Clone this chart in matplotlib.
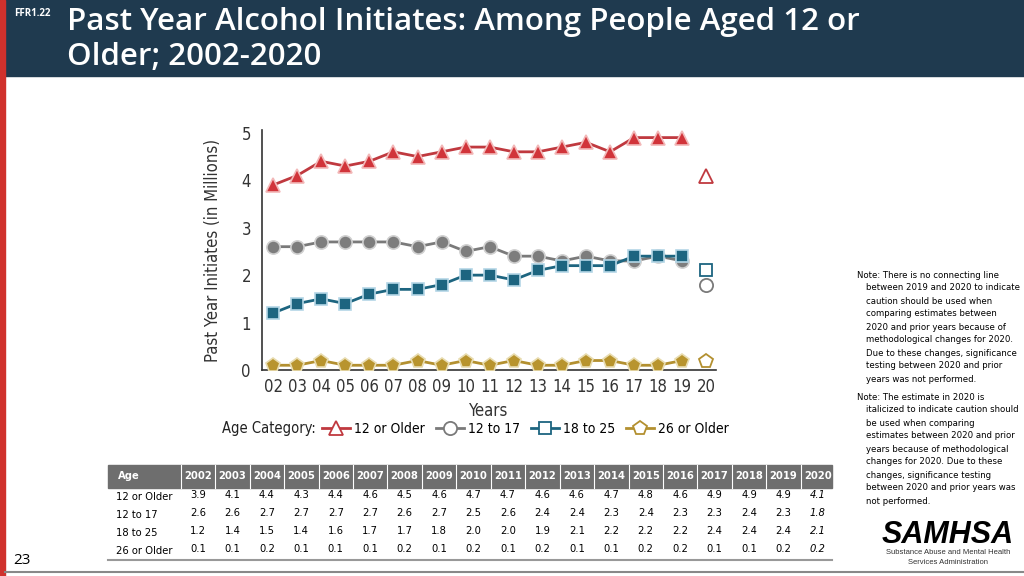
import matplotlib.pyplot as plt
import matplotlib.patches as patches
from matplotlib.lines import Line2D

# Donnees
years = [2002, 2003, 2004, 2005, 2006, 2007, 2008, 2009, 2010, 2011,
         2012, 2013, 2014, 2015, 2016, 2017, 2018, 2019, 2020]
tick_labels = ["%02d" % (y % 100) for y in years]
age_12_older = [3.9, 4.1, 4.4, 4.3, 4.4, 4.6, 4.5, 4.6, 4.7, 4.7, 4.6, 4.6, 4.7, 4.8, 4.6, 4.9, 4.9, 4.9, 4.1]
age_12_17 = [2.6, 2.6, 2.7, 2.7, 2.7, 2.7, 2.6, 2.7, 2.5, 2.6, 2.4, 2.4, 2.3, 2.4, 2.3, 2.3, 2.4, 2.3, 1.8]
age_18_25 = [1.2, 1.4, 1.5, 1.4, 1.6, 1.7, 1.7, 1.8, 2.0, 2.0, 1.9, 2.1, 2.2, 2.2, 2.2, 2.4, 2.4, 2.4, 2.1]
age_26_older = [0.1, 0.1, 0.2, 0.1, 0.1, 0.1, 0.2, 0.1, 0.2, 0.1, 0.2, 0.1, 0.1, 0.2, 0.2, 0.1, 0.1, 0.2, 0.2]
series_names = ["12 or Older", "12 to 17", "18 to 25", "26 or Older"]
series_values = [age_12_older, age_12_17, age_18_25, age_26_older]

# style de chaque serie : ligne, remplissage, bord, marqueur, taille
styles = [
    ("#c0393f", "#d1343a", "#f2b8b8", "^", 10),
    ("#7a7a7a", "#7d7d7d", "#d0d0d0", "o", 9.5),
    ("#1d6580", "#1d6580", "#b4d6e6", "s", 8.5),
    ("#b39030", "#b8942e", "#e8dcb0", "p", 10),
]

W, H = 1024, 576
plt.rcParams['font.family'] = ['DejaVu Sans']
plt.rcParams['font.stretch'] = 'condensed'
fig = plt.figure(figsize=(W / 100, H / 100), dpi=100)

def fx(px):
  return px / W

def fy(py):
  return 1 - py / H

# Bandeau du titre
fig.patches.append(patches.Rectangle((0, fy(76)), 1, 76 / H, transform=fig.transFigure,
                                     color="#1f3a4f", zorder=0))
fig.patches.append(patches.Rectangle((0, 0), fx(5), 1, transform=fig.transFigure,
                                     color="#d0312d", zorder=1))
fig.add_artist(Line2D([fx(5), 1], [fy(572), fy(572)], transform=fig.transFigure,
                      color="#888888", lw=1.5))
fig.text(fx(14), fy(13), "FFR1.22", color="white", fontsize=7, fontweight="bold",
         family=["Open Sans", "DejaVu Sans"], stretch="normal", va="center")
fig.text(fx(67), fy(22), "Past Year Alcohol Initiates: Among People Aged 12 or",
         color="white", fontsize=22.5, fontweight="semibold", family=["Open Sans", "DejaVu Sans"],
         stretch="normal", va="center")
fig.text(fx(67), fy(57), "Older; 2002-2020",
         color="white", fontsize=22.5, fontweight="semibold", family=["Open Sans", "DejaVu Sans"],
         stretch="normal", va="center")
fig.text(fx(13), fy(560), "23", fontsize=11, family=["Open Sans", "DejaVu Sans"],
         stretch="normal", va="center")

# Graphique
ax = fig.add_axes([fx(262), fy(370), fx(716 - 262), (370 - 130) / H])
x = list(range(len(years)))
for vals, (lc, fc, ec, mk, ms) in zip(series_values, styles):
  ax.plot(x[:-1], vals[:-1], color=lc, lw=2, marker=mk, markersize=ms,
          markerfacecolor=fc, markeredgecolor=ec, markeredgewidth=1.2, zorder=3)
  ax.plot(x[-1], vals[-1], linestyle="none", marker=mk, markersize=ms,
          markerfacecolor="white", markeredgecolor=lc, markeredgewidth=1.3, zorder=3)

ax.set_xlim(-0.46, 18.4)
ax.set_ylim(0, 5.06)
ax.set_yticks([0, 1, 2, 3, 4, 5])
ax.set_xticks(x)
ax.set_xticklabels(tick_labels)
ax.tick_params(length=0, labelsize=12, pad=6, colors="#333333")
ax.tick_params(axis="y", pad=8)
for s in ["top", "right"]:
  ax.spines[s].set_visible(False)
for s in ["left", "bottom"]:
  ax.spines[s].set_color("#333333")
  ax.spines[s].set_linewidth(1.2)
ax.set_xlabel("Years", fontsize=12, color="#333333", labelpad=4)
ax.set_ylabel("Past Year Initiates (in Millions)", fontsize=12, color="#333333", labelpad=14)

# Legende
fig.text(fx(222), fy(429), "Age Category:", fontsize=10.5, color="#222222", va="center")
handles = []
for name, (lc, fc, ec, mk, ms) in zip(series_names, styles):
  handles.append(Line2D([], [], color=lc, lw=2, marker=mk, markersize=ms,
                        markerfacecolor="white", markeredgecolor=lc, markeredgewidth=1.3, label=name))
fig.legend(handles=handles, loc="center left", bbox_to_anchor=(fx(322), fy(429)), ncol=4,
           frameon=False, fontsize=10, handlelength=2.0, handletextpad=0.3, columnspacing=0.8,
           borderaxespad=0, borderpad=0)

# Tableau
tx0, tx1 = 108, 832
col0 = 198
dcol = 34.44
fig.patches.append(patches.Rectangle((fx(tx0), fy(488)), fx(tx1 - tx0), 23 / H,
                                     transform=fig.transFigure, color="#6e6e6e"))
for i in range(len(years)):
  xs = col0 + dcol * i - dcol / 2
  fig.add_artist(Line2D([fx(xs), fx(xs)], [fy(465), fy(488)], transform=fig.transFigure,
                        color="white", lw=0.8))
fig.text(fx(118), fy(476), "Age", color="white", fontsize=8, fontweight="bold", va="center")
for i, yr in enumerate(years):
  fig.text(fx(col0 + dcol * i), fy(476), str(yr), color="white", fontsize=8,
           fontweight="bold", ha="center", va="center")
row_y = [497, 515, 533, 551]
for r, (name, vals) in enumerate(zip(series_names, series_values)):
  fig.text(fx(116), fy(row_y[r]), name, fontsize=8, va="center")
  for i, v in enumerate(vals):
    fig.text(fx(col0 + dcol * i), fy(row_y[r] - 2), "%.1f" % v, fontsize=8, ha="center",
             va="center", style="italic" if i == len(vals) - 1 else "normal")
fig.add_artist(Line2D([fx(tx0), fx(tx1)], [fy(560), fy(560)], transform=fig.transFigure,
                      color="#999999", lw=1.5))

# Notes
note1 = ["Note: There is no connecting line", "between 2019 and 2020 to indicate",
         "caution should be used when", "comparing estimates between",
         "2020 and prior years because of", "methodological changes for 2020.",
         "Due to these changes, significance", "testing between 2020 and prior",
         "years was not performed."]
note2 = ["Note: The estimate in 2020 is", "italicized to indicate caution should",
         "be used when comparing", "estimates between 2020 and prior",
         "years because of methodological", "changes for 2020. Due to these",
         "changes, significance testing", "between 2020 and prior years was",
         "not performed."]
yy = 275
for j, line in enumerate(note1):
  fig.text(fx(857 if j == 0 else 866), fy(yy), line, fontsize=6.8, va="center")
  yy += 13
yy += 5
for j, line in enumerate(note2):
  fig.text(fx(857 if j == 0 else 866), fy(yy), line, fontsize=6.8, va="center")
  yy += 13

# Logo
fig.text(fx(948), fy(535), "SAMHSA", fontsize=22, fontweight="bold", style="italic",
         ha="center", va="center", family=["Liberation Sans", "DejaVu Sans"], stretch="normal")
fig.text(fx(948), fy(553), "Substance Abuse and Mental Health", fontsize=5.5, ha="center",
         va="center", color="#333333", family=["Liberation Sans", "DejaVu Sans"], stretch="normal")
fig.text(fx(948), fy(563), "Services Administration", fontsize=5.5, ha="center",
         va="center", color="#333333", family=["Liberation Sans", "DejaVu Sans"], stretch="normal")

plt.savefig("out.png", dpi=100)
